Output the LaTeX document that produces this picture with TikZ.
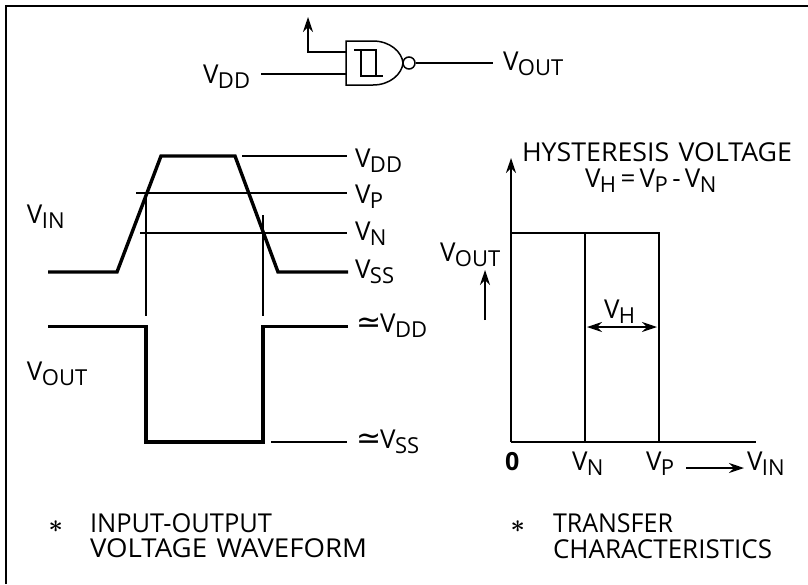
\documentclass[tikz,border=0pt]{standalone}
\usepackage{fontspec}
\usepackage{graphicx}
\setmainfont{Open Sans}
\newfontfamily\dejavu{DejaVu Sans}
\usetikzlibrary{arrows.meta}
\newcommand\Vsub[1]{{\fontsize{26}{26}\selectfont V}\kern-.5pt\raisebox{-5pt}{\fontsize{22}{22}\selectfont #1}}
\newcommand\apx{{\dejavu\fontsize{30}{30}\selectfont\char"2243}\kern-1pt}
\newcommand\wgap{\hspace{9pt}}
\newcommand\fitw[2]{\resizebox{#1pt}{\height}{#2}}
\tikzset{
 x=1pt,y=-1pt,
 thinl/.style={line width=1.5pt},
 thickl/.style={line width=3.4pt,line join=miter},
 lab/.style={anchor=base west,inner sep=0pt,outer sep=0pt,font=\fontsize{26}{26}\selectfont},
 star/.style={lab,font=\fontsize{30}{30}\selectfont\boldmath},
 headtip/.tip={Stealth[length=15pt,width=10pt,inset=5pt]},
 tip/.style={-headtip},
}
\begin{document}
\begin{tikzpicture}
\useasboundingbox (0,0) rectangle (808,584);
\draw[line width=2.2pt] (6,584) -- (6,6) -- (808,6);
% gate
\coordinate (arrowtop) at (308,17);
\coordinate (ilow) at (261,74);
\coordinate (oend) at (493,63);
\draw[line width=1.5pt] (346,41) -- (373,41) .. controls (390,41) and (402,52) .. (403,63)
  .. controls (402,74) and (390,85) .. (373,85) -- (346,85) -- cycle;
\node[circle,draw,line width=1.5pt,minimum size=12pt,inner sep=0pt] (bub) at (409,63) {};
\draw[thinl] (bub.east) -- (oend);
\draw[thinl] (ilow) -- (346,74);
\draw[thinl,tip] (346,52) -- (308,52) -- (arrowtop);
\draw[thinl] (354,50) -- (376,50) -- (376,76);
\draw[thinl] (361,50) -- (361,76) -- (383,76);
\node[lab] (gvdd) at (203,83) {\Vsub{DD}};
\node[lab] (gvout) at (503,70) {\Vsub{OUT}};
% waveforms
\draw[thickl] (48,272) -- (117,272) -- (161,156) -- (235,156) -- (278,272) -- (348,272);
\draw[thickl] (48,326.5) -- (146,326.5) -- (146,442) -- (263,442) -- (263,326.5) -- (348,326.5);
\draw[thinl] (242,156) -- (347,156);
\draw[thinl] (136,193) -- (347,193);
\draw[thinl] (140,233) -- (347,233);
\draw[line width=1.1pt] (146,193) -- (146,316);
\draw[line width=1.1pt] (263,215) -- (263,316);
\draw[thinl] (271,442) -- (347,442);
\node[lab] at (355,167) {\Vsub{DD}};
\node[lab] at (355,203) {\Vsub{P}};
\node[lab] at (355,240) {\Vsub{N}};
\node[lab] at (355,278) {\Vsub{SS}};
\node[lab] at (356,332) {\apx\Vsub{DD}};
\node[lab] at (356,448) {\apx\Vsub{SS}};
\node[lab] at (27,223) {\Vsub{IN}};
\node[lab] at (27,380) {\Vsub{OUT}};
% transfer
\draw[thinl,tip] (511,442) -- (511,158);
\draw[line width=2.2pt] (511,442) -- (756,442);
\draw[line width=1.7pt] (511,233) -- (659,233) -- (659,442);
\draw[line width=1.7pt] (585,233) -- (585,442);
\draw[line width=1.2pt,headtip-headtip] (587,327) -- (657,327);
\draw[thinl,tip] (485,320) -- (485,270);
\draw[thinl,tip] (686,468) -- (744,468);
\node[lab] at (522,161) {\fitw{270}{HYSTERESIS\wgap VOLTAGE}};
\node[lab] at (585,187) {\Vsub{H}\,{=}\,\Vsub{P}\,-\,\Vsub{N}};
\node[lab] at (440,261) {\Vsub{OUT}};
\node[lab] at (604,318) {\Vsub{H}};
\node[lab,font=\fontsize{25}{25}\selectfont\bfseries] at (505,470) {0};
\node[lab] at (572,470) {\Vsub{N}};
\node[lab] at (646,470) {\Vsub{P}};
\node[lab] at (747,470) {\Vsub{IN}};
\node[star] at (48.5,532.5) {$\ast$};
\node[lab] at (90,532) {\fitw{182}{INPUT-OUTPUT}};
\node[lab] at (90,557) {\fitw{277}{VOLTAGE\wgap WAVEFORM}};
\node[star] at (510.5,532.5) {$\ast$};
\node[lab] at (553,532) {\fitw{120}{TRANSFER}};
\node[lab] at (553,558) {\fitw{219}{CHARACTERISTICS}};
\end{tikzpicture}
\end{document}
